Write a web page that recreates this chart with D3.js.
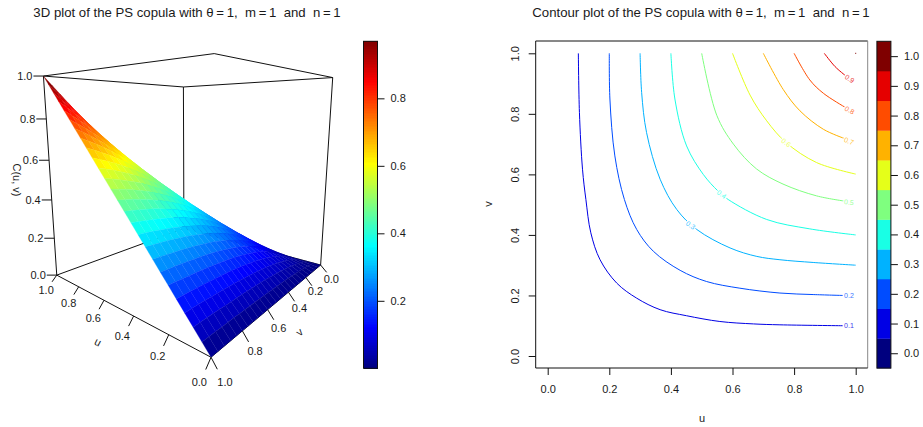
<!DOCTYPE html>
<html><head><meta charset="utf-8"><style>
html,body{margin:0;padding:0;background:#fff}
svg{display:block}
text{font-family:"Liberation Sans",Arial,sans-serif;font-size:11px;fill:#1a1a1a;white-space:pre}
</style><script src="https://cdn.jsdelivr.net/npm/d3@7"></script></head><body><div id="c"></div>
<script>
const gridU=[0,.04,.08,.12,.16,.2,.24,.28,.32,.36,.4,.44,.48,.52,.56,.6,.64,.68,.72,.76,.8,.84,.88,.92,.96,1];
// C(u, v) in thousandths: rows run over v, columns over u
const surfaceThousandths=[
[0,0,0,0,0,0,0,0,0,0,0,0,0,0,0,0,0,0,0,0,0,0,0,0,0,0],
[0,5,10,14,17,20,23,25,27,29,31,32,33,34,35,36,37,37,38,38,39,39,39,40,40,40],
[0,10,18,26,33,39,44,49,53,57,60,63,66,68,70,71,73,74,75,76,77,78,79,79,80,80],
[0,14,26,37,47,56,64,71,78,83,89,93,97,100,103,106,109,111,112,114,115,117,118,119,119,120],
[0,17,33,47,60,72,83,92,101,109,116,122,127,132,137,140,144,147,149,151,153,155,157,158,159,160],
[0,20,39,56,72,87,100,112,123,133,142,150,157,163,169,174,178,182,185,188,191,193,195,197,199,200],
[0,23,44,64,83,100,116,130,143,156,166,176,185,193,200,206,212,217,221,225,228,231,234,236,238,240],
[0,25,49,71,92,112,130,147,163,177,190,202,212,222,230,238,245,251,256,261,265,269,272,275,278,280],
[0,27,53,78,101,123,143,163,180,197,212,225,238,249,260,269,277,284,291,297,302,307,311,314,317,320],
[0,29,57,83,109,133,156,177,197,215,232,248,263,276,288,298,308,317,325,332,338,344,349,353,357,360],
[0,31,60,89,116,142,166,190,212,232,251,269,286,301,315,327,338,349,358,366,374,380,386,391,396,400],
[0,32,63,93,122,150,176,202,225,248,269,289,307,325,340,355,368,380,390,400,409,417,423,430,435,440],
[0,33,66,97,127,157,185,212,238,263,286,307,328,347,365,381,396,409,422,433,443,452,460,468,474,480],
[0,34,68,100,132,163,193,222,249,276,301,325,347,368,387,406,423,438,452,465,477,487,497,506,513,520],
[0,35,70,103,137,169,200,230,260,288,315,340,365,387,409,429,448,465,482,496,510,522,533,543,552,560],
[0,36,71,106,140,174,206,238,269,298,327,355,381,406,429,451,472,492,510,526,542,556,569,580,591,600],
[0,37,73,109,144,178,212,245,277,308,338,368,396,423,448,472,495,517,537,556,573,589,603,617,629,640],
[0,37,74,111,147,182,217,251,284,317,349,380,409,438,465,492,517,540,563,583,603,621,638,653,667,680],
[0,38,75,112,149,185,221,256,291,325,358,390,422,452,482,510,537,563,587,610,632,652,671,689,705,720],
[0,38,76,114,151,188,225,261,297,332,366,400,433,465,496,526,556,583,610,636,660,683,704,724,743,760],
[0,39,77,115,153,191,228,265,302,338,374,409,443,477,510,542,573,603,632,660,687,712,736,759,780,800],
[0,39,78,117,155,193,231,269,307,344,380,417,452,487,522,556,589,621,652,683,712,740,767,793,817,840],
[0,39,79,118,157,195,234,272,311,349,386,423,460,497,533,569,603,638,671,704,736,767,797,826,854,880],
[0,40,79,119,158,197,236,275,314,353,391,430,468,506,543,580,617,653,689,724,759,793,826,858,890,920],
[0,40,80,119,159,199,238,278,317,357,396,435,474,513,552,591,629,667,705,743,780,817,854,890,925,960],
[0,40,80,120,160,200,240,280,320,360,400,440,480,520,560,600,640,680,720,760,800,840,880,920,960,1000]];
const contourLevels=[0.1,0.2,0.3,0.4,0.5,0.6,0.7,0.8,0.9];
const level1=[[.0995,1],[.103,.805],[.113,.617],[.124,.517],[.14,.407],[.17,.318],[.224,.241],[.289,.191],[.365,.153],[.451,.133],[.559,.114],[.668,.106],[.754,.103],[.958,.1]];
const level2=[[.2,1],[.202,.849],[.218,.661],[.249,.517],[.289,.418],[.343,.346],[.43,.283],[.516,.246],[.624,.224],[.754,.208],[.862,.203],[.958,.2]];
const level3=[[.3,1],[.305,.871],[.321,.738],[.365,.584],[.419,.484],[.484,.418],[.592,.357],[.679,.329],[.754,.318],[.862,.309],[1,.3]];
const level4=[[.4,1],[.413,.849],[.451,.694],[.505,.6],[.553,.545],[.586,.517],[.711,.451],[.851,.42],[1,.4]];
const level5=[[.5,1],[.549,.795],[.603,.7],[.678,.618],[.764,.568],[.873,.529],[.962,.512]];
const level6=[[.6,1],[.657,.862],[.711,.777],[.774,.705],[.873,.639],[1,.601]];
const level7=[[.7,1],[.765,.88],[.819,.81],[.895,.749],[.965,.718]];
const level8=[[.8,1],[.851,.912],[.895,.868],[.965,.822]];
const level9=[[.898,1],[.933,.956],[.967,.926]];
const contourLines=[level1,level2,level3,level4,level5,level6,level7,level8,level9];
const contourLabels=["0.1","0.2","0.3","0.4","0.5","0.6","0.7","0.8","0.9"];
const labelAt=[[.978,.1],[.978,.2],[.464,.432],[.565,.534],[.978,.508],[.774,.705],[.978,.71],[.98,.812],[.98,.916]];
const labelAngle=[0,0,35,35,8,35,22,30,35];
const axisTicks=[0,.2,.4,.6,.8,1];
const barTicks3D=[.2,.4,.6,.8];
const barTicksContour=[0,.1,.2,.3,.4,.5,.6,.7,.8,.9,1];
const jetStops=["#00007F","#0000FF","#007FFF","#00FFFF","#7FFF7F","#FFFF00","#FF7F00","#FF0000","#7F0000"];
const zMax=.969;

const W=923,H=427;
const svg=d3.select("#c").append("svg").attr("width",W).attr("height",H);
const jet=d3.scaleLinear().domain(jetStops.map((_,i)=>i/8)).range(jetStops).clamp(true);
const ink="#1a1a1a";
const surfaceValues=surfaceThousandths.map(r=>r.map(x=>x/1000));

function title(txt,cx){svg.append("text").attr("x",cx).attr("y",17).attr("text-anchor","middle").style("font-size","13.2px").text(txt);}
title("3D plot of the PS copula with θ\u2009=\u20091,  m\u2009=\u20091  and  n\u2009=\u20091",187);
title("Contour plot of the PS copula with θ\u2009=\u20091,  m\u2009=\u20091  and  n\u2009=\u20091",701);

// perspective camera fitted to the box corners and the tick positions on its edges
const anchors=[[1,1,0,57.3,275.2],[0,1,0,211,355.7],[0,0,0,320,265],[1,0,0,183.5,228],[1,1,1,44,76],[0,1,1,213,53],[0,0,1,333,78],[1,0,1,183.5,87],
 [1,1,.2,54,238.3],[1,1,.4,52,200],[1,1,.6,49,160.7],[1,1,.8,46,118.5],
 [.2,1,0,168.3,335],[.4,1,0,134,316],[.6,1,0,104,300.7],[.8,1,0,78.3,287.3],
 [0,.2,0,306.7,277.7],[0,.4,0,288.3,292.3],[0,.6,0,268.3,310],[0,.8,0,242.3,330.7]];
function fitCamera(a){
  const rows=[],rhs=[];
  a.forEach(([x,y,z,sx,sy])=>{
    rows.push([x,y,z,1,0,0,0,0,-sx*x,-sx*y,-sx*z]);rhs.push(sx);
    rows.push([0,0,0,0,x,y,z,1,-sy*x,-sy*y,-sy*z]);rhs.push(sy);
  });
  const n=11,M=d3.range(n).map(i=>{const r=d3.range(n+1).map(()=>0);
    rows.forEach((row,k)=>{for(let j=0;j<n;j++)r[j]+=row[i]*row[j];r[n]+=row[i]*rhs[k];});return r;});
  for(let i=0;i<n;i++){let p=i;for(let k=i+1;k<n;k++)if(Math.abs(M[k][i])>Math.abs(M[p][i]))p=k;
    [M[i],M[p]]=[M[p],M[i]];
    for(let k=0;k<n;k++)if(k!==i){const c=M[k][i]/M[i][i];for(let j=i;j<=n;j++)M[k][j]-=c*M[i][j];}}
  return M.map((r,i)=>r[n]/r[i]);
}
const P=fitCamera(anchors);
function proj(u,v,z){const w=P[8]*u+P[9]*v+P[10]*z+1;
  return [(P[0]*u+P[1]*v+P[2]*z+P[3])/w,(P[4]*u+P[5]*v+P[6]*z+P[7])/w,w];}

const g3=svg.append("g");
const line=(a,b,col)=>g3.append("line").attr("x1",a[0]).attr("y1",a[1]).attr("x2",b[0]).attr("y2",b[1]).attr("stroke",col||"#111").attr("stroke-width",1);
line(proj(1,1,0),proj(1,0,0));line(proj(0,0,0),proj(1,0,0));line(proj(1,0,0),proj(1,0,1));
line(proj(1,1,0),proj(1,1,1));line(proj(0,0,0),proj(0,0,1));
[[1,1,1,0,1,1],[0,1,1,0,0,1],[0,0,1,1,0,1],[1,0,1,1,1,1]].forEach(s=>line(proj(s[0],s[1],s[2]),proj(s[3],s[4],s[5])));
line(proj(1,1,0),proj(0,1,0));line(proj(0,1,0),proj(0,0,0));

const cells=[];
for(let j=0;j<gridU.length-1;j++)for(let i=0;i<gridU.length-1;i++){
  const c=[[i,j],[i+1,j],[i+1,j+1],[i,j+1]];
  const vals=c.map(([a,b])=>surfaceValues[b][a]);
  const pts=c.map(([a,b],k)=>proj(gridU[a],gridU[b],vals[k]));
  cells.push({pts,val:d3.mean(vals),d:d3.mean(pts,p=>p[2])});
}
cells.sort((a,b)=>d3.descending(a.d,b.d));
g3.append("g").selectAll("path").data(cells).join("path")
  .attr("d",d=>d3.line()(d.pts.map(p=>[p[0],p[1]]))+"Z")
  .attr("fill",d=>jet(d.val/zMax)).attr("stroke",d=>jet(d.val/zMax)).attr("stroke-width",.3);

axisTicks.forEach(t=>{const p=proj(1,1,t);
  line([p[0]-10,p[1]],p);
  g3.append("text").attr("x",p[0]-11).attr("y",p[1]+4).attr("text-anchor","end").text(t.toFixed(1));});
const uTick=d3.scaleLinear().domain([0,1]).range([[-5.3,12.3],[-4.7,6.7]]);
const uLab=d3.scaleLinear().domain([0,.2,.4,.6,.8,1]).range([[-11.7,25],[-11,21],[-11.3,20],[-10.7,17.6],[-10,16],[-10.6,15]]);
const vTick=d3.scaleLinear().domain([0,1]).range([[6,7.3],[6.3,12]]);
const vLab=d3.scaleLinear().domain([0,.2,.4,.6,.8,1]).range([[10.7,14],[9.6,14],[11,15.4],[11,18.3],[12.7,20.3],[14,24.3]]);
axisTicks.forEach(t=>{
  let p=proj(t,1,0),o=uTick(t),l=uLab(t);
  line(p,[p[0]+o[0],p[1]+o[1]]);
  g3.append("text").attr("x",p[0]+l[0]).attr("y",p[1]+l[1]+4).attr("text-anchor","middle").text(t.toFixed(1));
  p=proj(0,t,0);o=vTick(t);l=vLab(t);
  line(p,[p[0]+o[0],p[1]+o[1]]);
  g3.append("text").attr("x",p[0]+l[0]).attr("y",p[1]+l[1]+4).attr("text-anchor","middle").text(t.toFixed(1));
});
const rotText=(t,x,y,a)=>svg.append("text").attr("transform",`translate(${x},${y}) rotate(${a})`).attr("text-anchor","middle").attr("dy","0.35em").text(t);
rotText("u",98,342,27);rotText("v",299.5,332,-40);rotText("C(u, v)",17,180,90);

const barY=d3.scaleLinear().domain([0,zMax]).range([368.3,41.3]);
const barX=363.5,barW=14;
const barSteps=d3.range(0,200).map(i=>i/200*zMax);
svg.append("g").attr("shape-rendering","crispEdges").selectAll("rect").data(barSteps).join("rect").attr("x",barX).attr("width",barW)
  .attr("y",d=>barY(d+zMax/200)).attr("height",d=>barY(d)-barY(d+zMax/200)+1).attr("fill",d=>jet(d/zMax));
svg.append("rect").attr("x",barX).attr("y",41.3).attr("width",barW).attr("height",327).attr("fill","none").attr("stroke","#111");
const ax3=svg.append("g").attr("transform",`translate(${barX+barW},0)`).call(d3.axisRight(barY).tickValues(barTicks3D).tickSize(7).tickPadding(6).tickFormat(d3.format(".1f")));

const cx=d3.scaleLinear().domain([0,1]).range([547.7,855.7]);
const cy=d3.scaleLinear().domain([0,1]).range([356,53.3]);
const curve=d3.line().x(d=>cx(d[0])).y(d=>cy(d[1])).curve(d3.curveCatmullRom.alpha(.5));
svg.append("g").selectAll("path").data(contourLines).join("path").attr("d",curve).attr("fill","none")
  .attr("stroke",(d,i)=>jet(contourLevels[i])).attr("stroke-width",1);
svg.append("rect").attr("x",cx(1)-.5).attr("y",cy(1)-.5).attr("width",1).attr("height",1).attr("fill","#7F0000");
svg.append("g").selectAll("text").data(contourLabels).join("text")
  .attr("transform",(d,i)=>`translate(${cx(labelAt[i][0])},${cy(labelAt[i][1])}) rotate(${labelAngle[i]})`)
  .attr("text-anchor","middle").attr("dy","0.35em").style("font-size","7px")
  .style("stroke","#fff").style("stroke-width","2.5px").style("paint-order","stroke")
  .style("fill",(d,i)=>d3.interpolateRgb(jet(contourLevels[i]),"#fff")(.25)).text(d=>d);
const box=svg.append("g").attr("stroke-width",1);
[[535.7,41,867.7,41,"#111"],[535.7,41,535.7,368,"#111"],[867.7,41,867.7,368,"#888"],[535.7,368,867.7,368,"#111"]].forEach(b=>
  box.append("line").attr("x1",b[0]).attr("y1",b[1]).attr("x2",b[2]).attr("y2",b[3]).attr("stroke",b[4]));
const xa=svg.append("g").attr("transform","translate(0,368)").call(d3.axisBottom(cx).tickValues(axisTicks).tickSize(7).tickPadding(10).tickFormat(d3.format(".1f")));
const ya=svg.append("g").attr("transform","translate(535.7,0)").call(d3.axisLeft(cy).tickValues(axisTicks).tickSize(7).tickPadding(10).tickFormat(d3.format(".1f")));
ya.selectAll("text").attr("x",0).attr("y",0).attr("transform","translate(-21,0) rotate(-90)").attr("dy","0.35em").attr("text-anchor","middle");
rotText("v",488,204,-90);rotText("u",702,418,0);

const cbY=d3.scaleLinear().domain([-.05,1.05]).range([368.1,41.3]);
svg.append("g").selectAll("rect").data(barTicksContour).join("rect").attr("x",876.9).attr("width",14)
  .attr("y",d=>cbY(d+.05)).attr("height",d=>cbY(d-.05)-cbY(d+.05)+.3).attr("fill",d=>jet(d));
svg.append("rect").attr("x",876.9).attr("y",41.3).attr("width",14).attr("height",326.8).attr("fill","none").attr("stroke","#111");
const ax4=svg.append("g").attr("transform","translate(890.9,0)").call(d3.axisRight(cbY).tickValues(barTicksContour).tickSize(7).tickPadding(6).tickFormat(d3.format(".1f")));
[ax3,ax4,xa,ya].forEach(a=>{a.select(".domain").remove();a.selectAll("line").attr("stroke","#111");a.selectAll("text").style("font-size","11px").style("font-family",'"Liberation Sans",Arial,sans-serif').style("fill",ink);});
</script></body></html>
